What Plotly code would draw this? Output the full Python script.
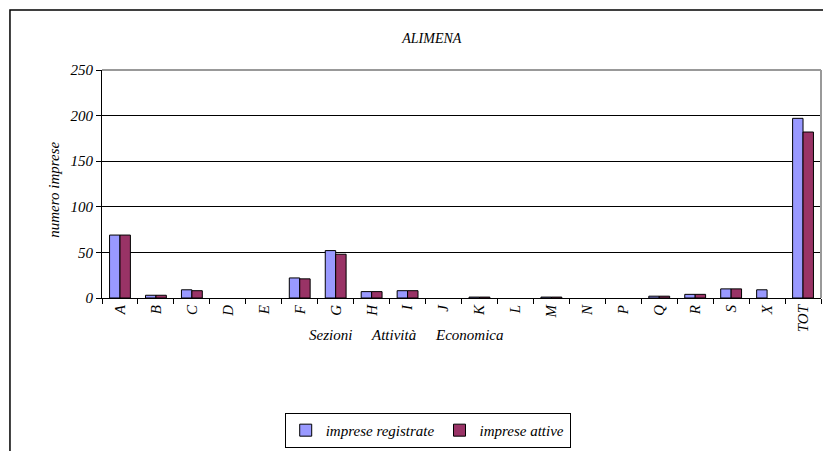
import plotly.graph_objects as go

sezioni = ["A", "B", "C", "D", "E", "F", "G", "H", "I", "J", "K", "L", "M",
           "N", "P", "Q", "R", "S", "X", "TOT"]
registrate = [69, 3, 9, 0, 0, 22, 52, 7, 8, 0, 1, 0, 1, 0, 0, 2, 4, 10, 9, 197]
attive = [69, 3, 8, 0, 0, 21, 48, 7, 8, 0, 1, 0, 1, 0, 0, 2, 4, 10, 0, 182]
y_ticks = [0, 50, 100, 150, 200, 250]
x_title_words = ["Sezioni", "Attività", "Economica"]

FONT = "Liberation Serif"


def outline(values):
  # empty categories get no visible bar edge
  return [1 if v else 0 for v in values]


def italic(size):
  return dict(size=size, family=FONT, color="black", style="italic")


fig = go.Figure()
fig.add_trace(go.Bar(x=sezioni, y=registrate, name="imprese registrate",
                     marker=dict(color="#9999FF",
                                 line=dict(color="black",
                                           width=outline(registrate)))))
fig.add_trace(go.Bar(x=sezioni, y=attive, name="imprese attive",
                     marker=dict(color="#993366",
                                 line=dict(color="black",
                                           width=outline(attive)))))

# page body adds an 8px offset, so the figure is sized to compensate
fig.update_layout(
    width=823, height=443,
    margin=dict(l=94, r=10, t=62, b=153, autoexpand=False),
    paper_bgcolor="white", plot_bgcolor="white",
    font=italic(15),
    barmode="group", bargap=0.42, bargroupgap=0,
    title=dict(text="ALIMENA", x=0.515, xanchor="center",
               y=0.933, yanchor="middle", font=italic(14)),
    showlegend=True,
    legend=dict(orientation="h", x=0.453, xanchor="center",
                y=-0.504, yanchor="top", bgcolor="white",
                bordercolor="black", borderwidth=1,
                font=italic(15), traceorder="normal"),
)

fig.update_xaxes(
    type="category", tickangle=-90, tickfont=italic(15),
    ticks="outside", tickson="boundaries", ticklen=5, tickcolor="black",
    showline=True, linecolor="black", linewidth=1, mirror=False,
    showgrid=False, automargin=False,
)
fig.update_yaxes(
    range=[0, 250], tickvals=y_ticks, tickfont=italic(15),
    ticks="outside", ticklen=5, tickcolor="black",
    showline=True, linecolor="black", linewidth=1,
    showgrid=True, gridcolor="black", gridwidth=1,
    automargin=False,
)

# gray border on top and right of plot area
fig.add_shape(type="line", xref="paper", yref="paper", x0=0, x1=1, y0=1, y1=1,
              line=dict(color="#999999", width=2))
fig.add_shape(type="line", xref="paper", yref="paper", x0=1, x1=1, y0=0, y1=1,
              line=dict(color="#999999", width=2))

# outer chart frame
fig.add_shape(type="rect", xref="paper", yref="paper",
              x0=-0.128, x1=1.03, y0=-0.72, y1=1.263,
              line=dict(color="black", width=1.5))

# y axis title
fig.add_annotation(text="numero imprese", textangle=-90,
                   xref="paper", yref="paper", x=-0.067, y=0.474,
                   xanchor="center", yanchor="middle",
                   showarrow=False, font=italic(15))

# x axis title, split in words as in the original
for word, xpos in zip(x_title_words, [0.318, 0.405, 0.510]):
  fig.add_annotation(text=word, xref="paper", yref="paper", x=xpos, y=-0.162,
                     xanchor="center", yanchor="middle",
                     showarrow=False, font=italic(15))

fig.write_html("out.html")
